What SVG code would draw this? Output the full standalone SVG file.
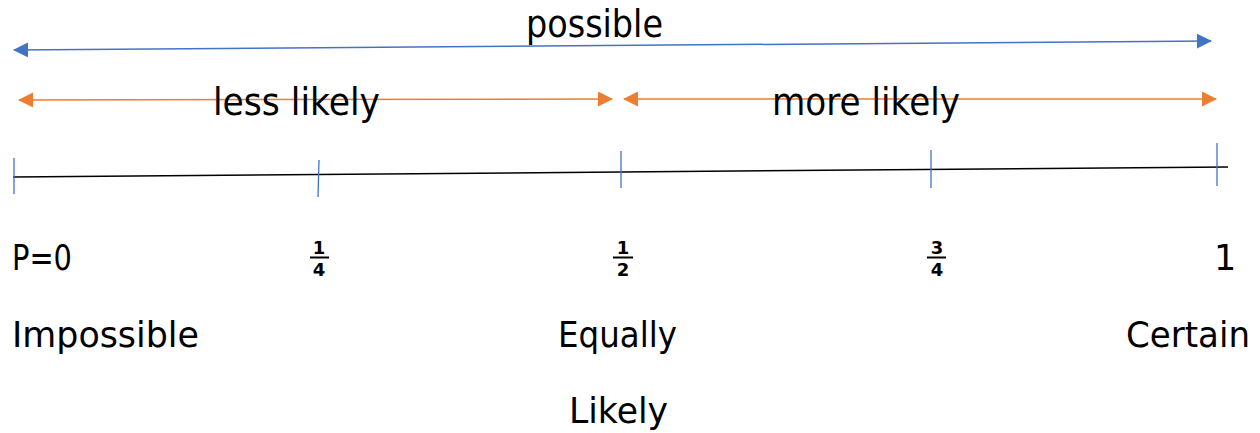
<svg xmlns="http://www.w3.org/2000/svg" width="1260" height="433" viewBox="0 0 1260 433">
<style>
text{font-family:"DejaVu Sans","Liberation Sans",sans-serif;fill:#000}
.lbl{font-size:35px}
.big{font-size:37px}
.frac{font-size:18px;font-weight:bold;text-anchor:middle}
.blue{stroke:#4472C4;stroke-width:1.5;fill:none}
.orange{stroke:#ED7D31;stroke-width:1.5;fill:none}
.tick{stroke:#4472C4;stroke-width:1.3}
</style>
<defs>
<marker id="ab" markerWidth="15" markerHeight="15" refX="14" refY="7.5" orient="auto-start-reverse" markerUnits="userSpaceOnUse" viewBox="0 0 15 15"><path d="M0,0 L15,7.5 L0,15 z" fill="#4472C4"/></marker>
<marker id="ao" markerWidth="15" markerHeight="15" refX="14" refY="7.5" orient="auto-start-reverse" markerUnits="userSpaceOnUse" viewBox="0 0 15 15"><path d="M0,0 L15,7.5 L0,15 z" fill="#ED7D31"/></marker>
</defs>
<g id="connectors">
<line class="blue" x1="14" y1="50" x2="1211" y2="41" marker-start="url(#ab)" marker-end="url(#ab)"/>
<line class="orange" x1="19" y1="100" x2="612" y2="99" marker-start="url(#ao)" marker-end="url(#ao)"/>
<line class="orange" x1="624" y1="99" x2="1216" y2="99" marker-start="url(#ao)" marker-end="url(#ao)"/>
</g>
<g id="axis">
<line x1="13" y1="177" x2="1228" y2="167" stroke="#000" stroke-width="1.5"/>
<line class="tick" x1="14" y1="158" x2="14" y2="194"/>
<line class="tick" x1="319" y1="160" x2="318" y2="197"/>
<line class="tick" x1="621" y1="151" x2="621" y2="188"/>
<line class="tick" x1="931" y1="150" x2="931" y2="188"/>
<line class="tick" x1="1217" y1="143" x2="1217" y2="186"/>
</g>
<g id="label-possible"><text class="big" x="526" y="37" textLength="137" lengthAdjust="spacingAndGlyphs">possible</text></g>
<g id="label-less"><text class="big" x="213" y="115" textLength="167" lengthAdjust="spacingAndGlyphs">less likely</text></g>
<g id="label-more"><text class="big" x="772" y="115" textLength="188" lengthAdjust="spacingAndGlyphs">more likely</text></g>
<g id="tick-0"><text class="lbl" x="12" y="270" textLength="60" lengthAdjust="spacingAndGlyphs">P=0</text></g>
<g id="tick-quarter"><text class="frac" x="319" y="254">1</text><line x1="310" y1="257.5" x2="329" y2="257.5" stroke="#000" stroke-width="2"/><text class="frac" x="319" y="276">4</text></g>
<g id="tick-half"><text class="frac" x="623" y="254">1</text><line x1="613" y1="257.5" x2="633" y2="257.5" stroke="#000" stroke-width="2"/><text class="frac" x="623" y="276">2</text></g>
<g id="tick-threequarter"><text class="frac" x="937" y="254">3</text><line x1="927" y1="257.5" x2="946" y2="257.5" stroke="#000" stroke-width="2"/><text class="frac" x="937" y="276">4</text></g>
<g id="tick-1"><text class="lbl" x="1214" y="270">1</text></g>
<g id="label-impossible"><text class="lbl" x="12" y="347" textLength="187" lengthAdjust="spacingAndGlyphs">Impossible</text></g>
<g id="label-equally"><text class="lbl" x="558" y="347" textLength="119" lengthAdjust="spacingAndGlyphs">Equally</text><text class="lbl" x="569" y="423" textLength="99" lengthAdjust="spacingAndGlyphs">Likely</text></g>
<g id="label-certain"><text class="lbl" x="1126" y="347" textLength="124" lengthAdjust="spacingAndGlyphs">Certain</text></g>
</svg>
